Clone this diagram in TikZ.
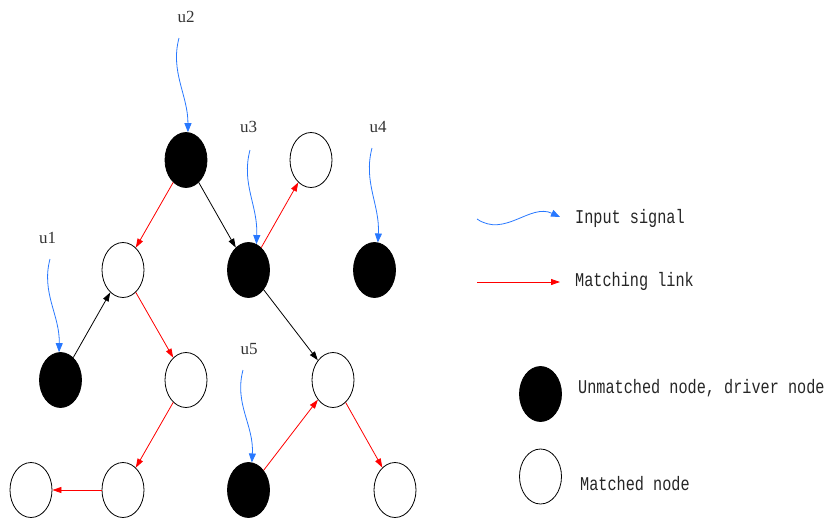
\documentclass[tikz,border=0pt]{standalone}
\usepackage{fontspec}
\newfontfamily\legfont[FakeStretch=0.78]{Liberation Mono}
\newfontfamily\labfont{Liberation Serif}
\usetikzlibrary{shapes.geometric,arrows.meta}
\definecolor{sigblue}{RGB}{40,120,255}
\begin{document}
\begin{tikzpicture}[x=1pt,y=-1pt,
 vtx/.style={ellipse,draw=black,line width=0.8pt,minimum width=42pt,minimum height=55pt,inner sep=0pt},
 drv/.style={vtx,fill=black},
 mtc/.style={vtx,fill=white},
 ulab/.style={font=\labfont\fontsize{17}{17}\selectfont,anchor=base,inner sep=0pt,text=black!80},
 leg/.style={font=\legfont\fontsize{19.5}{19.5}\selectfont,anchor=base west,inner sep=0pt,text=black!85},
 sig/.style={draw=sigblue,line width=0.8pt,-{Triangle[length=9pt,width=7pt]}},
 mlink/.style={draw=red,line width=0.8pt,-{Triangle[length=9pt,width=6pt]}},
 plainlink/.style={draw=black,line width=0.8pt,-{Triangle[length=9pt,width=6pt]}}]
\useasboundingbox (0,0) rectangle (827,520);
% nodes
\node[drv] (A) at (186,160) {};
\node[mtc] (B) at (311,160) {};
\node[mtc] (C) at (123,270) {};
\node[drv] (D) at (248.5,270) {};
\node[drv] (E) at (374.5,270) {};
\node[drv] (F) at (60.5,380) {};
\node[mtc] (G) at (186,380) {};
\node[mtc] (H) at (333,380) {};
\node[mtc] (I) at (31,490) {};
\node[mtc] (J) at (123,490) {};
\node[drv] (K) at (248.5,490) {};
\node[mtc] (L) at (395,490) {};
% labels
\node[ulab] (t2) at (186,22) {u2};
\node[ulab] (t3) at (248.5,132) {u3};
\node[ulab] (t4) at (378,132) {u4};
\node[ulab] (t1) at (47.5,243) {u1};
\node[ulab] (t5) at (249,354) {u5};
% input signals
\coordinate (s2) at (179,38);
\coordinate (s3) at (250,150);
\coordinate (s4) at (372,148);
\coordinate (s1) at (50,259);
\coordinate (s5) at (243,370);
\draw[sig] (s2) .. controls (170,72) and (188,95) .. (A.86);
\draw[sig] (s3) .. controls (241,184) and (258,205) .. (D.73);
\draw[sig] (s4) .. controls (363,182) and (380,205) .. (E.83);
\draw[sig] (s1) .. controls (41,293) and (60,315) .. (F.93);
\draw[sig] (s5) .. controls (234,404) and (254,425) .. (K.83);
% edges
\draw[mlink] (A) -- (C);
\draw[plainlink] (A) -- (D);
\draw[mlink] (D) -- (B);
\draw[plainlink] (D) -- (H);
\draw[plainlink] (F) -- (C);
\draw[mlink] (C) -- (G);
\draw[mlink] (G) -- (J);
\draw[mlink] (J) -- (I);
\draw[mlink] (K) -- (H);
\draw[mlink] (H) -- (L);
% legend
\coordinate (la1) at (477,219);
\coordinate (la2) at (560,217);
\draw[sig] (la1) .. controls (505,238) and (530,203) .. (la2);
\coordinate (lb1) at (477,282);
\coordinate (lb2) at (560,282);
\draw[mlink] (lb1) -- (lb2);
\node[leg] (ltx1) at (575,223) {Input signal};
\node[leg] (ltx2) at (575,286) {Matching link};
\node[drv] (lg1) at (540.5,394) {};
\node[mtc] (lg2) at (540.5,476.5) {};
\node[leg] (ltx3) at (578,393) {Unmatched node, driver node};
\node[leg] (ltx4) at (580,490) {Matched node};
\end{tikzpicture}
\end{document}
